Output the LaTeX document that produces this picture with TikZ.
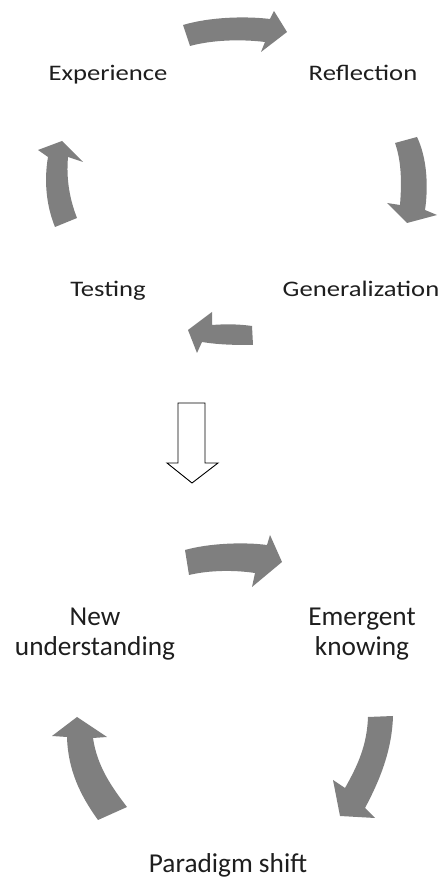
\documentclass[tikz,border=0pt]{standalone}
\usepackage{fontspec}
\setmainfont{Carlito}
\newfontfamily\topfont[FakeStretch=1.2]{Carlito}
\definecolor{cyclegray}{RGB}{127,127,127}
\definecolor{lbltext}{RGB}{30,30,30}
\tikzset{
    toplbl/.style={font=\topfont\fontsize{22.2}{26}\selectfont, text=lbltext, anchor=base, inner sep=0pt},
    lowlbl/.style={font=\fontsize{27.3}{30}\selectfont, text=lbltext, align=center, inner sep=0pt},
    cyclearrow/.style={fill=cyclegray, draw=none}
}
\begin{document}
\begin{tikzpicture}[x=1pt, y=1pt]
        \useasboundingbox (0,0) rectangle (446,880);

        % first cycle
        \node[toplbl] (exp) at (108,799) {Experience};
        \node[toplbl] (refl) at (363,799) {Reflection};
        \node[toplbl] (gen) at (361,583) {Generalization};
        \node[toplbl] (test) at (108,583) {Testing};

        \fill[cyclearrow] (183,855) .. controls (210,863) and (245,864) .. (270,861) -- (274,869) -- (287,848) -- (261,828) -- (265,838) .. controls (240,841) and (212,840) .. (190,834) -- cycle;
        \fill[cyclearrow] (417,743) .. controls (428,720) and (428,690) .. (425,670) -- (437,665) -- (407,657) -- (387,677) -- (400,675) .. controls (402,700) and (401,720) .. (395,737) -- cycle;
        \fill[cyclearrow] (252,554) .. controls (238,556) and (225,556) .. (212,555) -- (212,568) -- (188,550) -- (197,527) -- (202,538) .. controls (220,535) and (238,535) .. (253,535) -- cycle;
        \fill[cyclearrow] (62,739) -- (83,718) -- (68,723) .. controls (66,700) and (70,680) .. (77,662) -- (55,653) .. controls (46,675) and (44,700) .. (48,723) -- (38,730) -- cycle;

        % hollow arrow between the cycles
        \filldraw[draw=black, fill=white, line width=0.9pt] (178,477) -- (205,477) -- (205,417) -- (218,417) -- (192,397) -- (167,417) -- (178,417) -- cycle;

        % second cycle
        \node[lowlbl] (newu) at (95,246) {New\\understanding};
        \node[lowlbl] (emerg) at (362,246) {Emergent\\knowing};
        \node[lowlbl, anchor=base] (para) at (228,8) {Paradigm shift};

        \fill[cyclearrow] (185,330) .. controls (210,337) and (245,338) .. (267,335) -- (270,345) -- (282,318) -- (252,293) -- (255,307) .. controls (235,310) and (210,310) .. (189,305) -- cycle;
        \fill[cyclearrow] (393,164) .. controls (392,130) and (380,100) .. (365,72) -- (375,62) -- (340,64) -- (333,100) -- (345,92) .. controls (358,115) and (367,135) .. (368,163) -- cycle;
        \fill[cyclearrow] (77,163) -- (107,143) -- (93,142) .. controls (97,115) and (110,95) .. (127,73) -- (98,60) .. controls (80,85) and (68,110) .. (67,143) -- (52,144) -- cycle;
    \end{tikzpicture}
\end{document}
